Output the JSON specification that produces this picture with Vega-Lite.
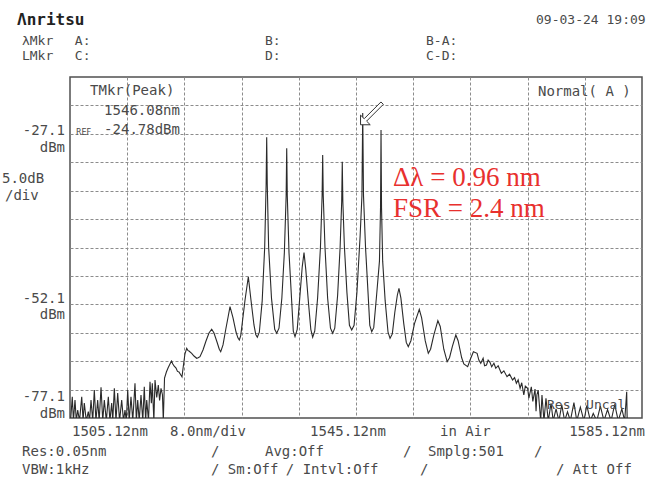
{
  "$schema": "https://vega.github.io/schema/vega-lite/v6.json",
  "width": 572,
  "height": 341,
  "autosize": {"type": "none"},
  "padding": {"left": 70, "top": 77, "right": 5, "bottom": 66},
  "background": "white",
  "config": {"view": {"stroke": "#505050", "strokeWidth": 1.5}, "font": "DejaVu Sans Mono"},
  "datasets": {
    "trace": [
      {"wl":1505.2,"lvl":-77.6},{"wl":1505.44,"lvl":-73.35},{"wl":1505.6,"lvl":-77.6},{"wl":1505.82,"lvl":-73.93},{"wl":1506.0,"lvl":-77.6},{"wl":1506.2,"lvl":-75.69},{"wl":1506.45,"lvl":-77.6},{"wl":1506.76,"lvl":-73.35},{"wl":1506.95,"lvl":-77.6},{"wl":1507.12,"lvl":-74.46},{"wl":1507.4,"lvl":-77.6},{"wl":1507.68,"lvl":-75.99},{"wl":1507.85,"lvl":-77.6},{"wl":1508.06,"lvl":-73.93},{"wl":1508.3,"lvl":-77.6},{"wl":1508.52,"lvl":-72.17},{"wl":1508.75,"lvl":-77.6},{"wl":1508.99,"lvl":-73.93},{"wl":1509.2,"lvl":-77.6},{"wl":1509.46,"lvl":-71.7},{"wl":1509.7,"lvl":-77.6},{"wl":1509.92,"lvl":-73.93},{"wl":1510.2,"lvl":-77.6},{"wl":1510.48,"lvl":-73.35},{"wl":1510.7,"lvl":-77.6},{"wl":1510.95,"lvl":-74.46},{"wl":1511.1,"lvl":-77.6},{"wl":1511.32,"lvl":-71.87},{"wl":1511.55,"lvl":-77.6},{"wl":1511.79,"lvl":-72.7},{"wl":1512.05,"lvl":-77.6},{"wl":1512.35,"lvl":-73.93},{"wl":1512.6,"lvl":-77.6},{"wl":1512.81,"lvl":-75.69},{"wl":1513.0,"lvl":-77.6},{"wl":1513.19,"lvl":-72.17},{"wl":1513.4,"lvl":-77.6},{"wl":1513.65,"lvl":-73.35},{"wl":1513.9,"lvl":-77.6},{"wl":1514.21,"lvl":-70.99},{"wl":1514.4,"lvl":-77.6},{"wl":1514.59,"lvl":-73.93},{"wl":1514.8,"lvl":-77.6},{"wl":1515.05,"lvl":-73.05},{"wl":1515.3,"lvl":-77.6},{"wl":1515.51,"lvl":-71.59},{"wl":1515.7,"lvl":-77.6},{"wl":1515.85,"lvl":-73.93},{"wl":1516.1,"lvl":-77.6},{"wl":1516.31,"lvl":-70.71},{"wl":1516.5,"lvl":-74.5},{"wl":1516.63,"lvl":-70.99},{"wl":1516.85,"lvl":-77.6},{"wl":1517.01,"lvl":-70.41},{"wl":1517.25,"lvl":-73.5},{"wl":1517.47,"lvl":-71.29},{"wl":1517.65,"lvl":-74.0},{"wl":1517.85,"lvl":-71.87},{"wl":1518.05,"lvl":-73.0},{"wl":1518.17,"lvl":-77.6},{"wl":1518.34,"lvl":-70.06},
      {"wl":1518.6,"lvl":-69.0},{"wl":1518.83,"lvl":-68.3},{"wl":1519.1,"lvl":-67.6},{"wl":1519.32,"lvl":-67.07},{"wl":1519.5,"lvl":-67.6},{"wl":1519.67,"lvl":-67.95},{"wl":1519.95,"lvl":-68.3},{"wl":1520.15,"lvl":-68.9},{"wl":1520.36,"lvl":-69.01},{"wl":1520.6,"lvl":-69.5},{"wl":1520.78,"lvl":-69.88},{"wl":1520.99,"lvl":-67.78},{"wl":1521.2,"lvl":-65.8},{"wl":1521.44,"lvl":-64.84},{"wl":1521.6,"lvl":-65.2},{"wl":1521.76,"lvl":-65.31},{"wl":1522.14,"lvl":-65.72},{"wl":1522.46,"lvl":-66.19},{"wl":1522.84,"lvl":-66.59},{"wl":1523.05,"lvl":-66.5},{"wl":1523.3,"lvl":-66.31},{"wl":1523.72,"lvl":-65.14},{"wl":1524.14,"lvl":-63.55},{"wl":1524.56,"lvl":-62.14},{"wl":1524.94,"lvl":-61.49},{"wl":1525.26,"lvl":-62.14},{"wl":1525.68,"lvl":-63.72},{"wl":1526.0,"lvl":-65.0},{"wl":1526.2,"lvl":-65.43},{"wl":1526.52,"lvl":-64.25},{"wl":1526.94,"lvl":-61.26},{"wl":1527.25,"lvl":-59.2},{"wl":1527.5,"lvl":-57.52},{"wl":1527.92,"lvl":-59.5},{"wl":1528.34,"lvl":-61.97},{"wl":1528.6,"lvl":-63.0},{"wl":1528.8,"lvl":-63.38},{"wl":1529.0,"lvl":-62.6},{"wl":1529.18,"lvl":-60.73},{"wl":1529.6,"lvl":-56.34},{"wl":1530.06,"lvl":-52.24},{"wl":1530.43,"lvl":-56.34},{"wl":1530.85,"lvl":-60.73},{"wl":1531.1,"lvl":-62.4},{"wl":1531.32,"lvl":-62.9},
      {"wl":1531.6,"lvl":-62.0},{"wl":1532.0,"lvl":-56.5},{"wl":1532.35,"lvl":-47.0},{"wl":1532.55,"lvl":-36.0},{"wl":1532.63,"lvl":-27.71},{"wl":1532.71,"lvl":-36.0},{"wl":1532.9,"lvl":-47.0},{"wl":1533.3,"lvl":-56.0},{"wl":1533.75,"lvl":-61.5},{"wl":1534.03,"lvl":-62.2},
      {"wl":1534.35,"lvl":-61.3},{"wl":1534.75,"lvl":-56.0},{"wl":1535.1,"lvl":-48.0},{"wl":1535.35,"lvl":-38.0},{"wl":1535.43,"lvl":-29.65},{"wl":1535.51,"lvl":-38.0},{"wl":1535.75,"lvl":-48.0},{"wl":1536.1,"lvl":-56.0},{"wl":1536.35,"lvl":-61.8},{"wl":1536.59,"lvl":-62.79},
      {"wl":1536.9,"lvl":-61.5},{"wl":1537.25,"lvl":-56.0},{"wl":1537.6,"lvl":-50.5},{"wl":1537.85,"lvl":-48.01},{"wl":1538.1,"lvl":-51.0},{"wl":1538.45,"lvl":-56.5},{"wl":1538.8,"lvl":-61.5},{"wl":1539.06,"lvl":-62.9},
      {"wl":1539.35,"lvl":-61.8},{"wl":1539.75,"lvl":-56.0},{"wl":1540.15,"lvl":-47.0},{"wl":1540.38,"lvl":-38.0},{"wl":1540.46,"lvl":-30.82},{"wl":1540.54,"lvl":-38.0},{"wl":1540.78,"lvl":-47.0},{"wl":1541.15,"lvl":-56.0},{"wl":1541.55,"lvl":-61.3},{"wl":1541.86,"lvl":-62.2},
      {"wl":1542.15,"lvl":-61.3},{"wl":1542.55,"lvl":-55.5},{"wl":1542.9,"lvl":-47.0},{"wl":1543.12,"lvl":-39.0},{"wl":1543.2,"lvl":-32.0},{"wl":1543.28,"lvl":-39.0},{"wl":1543.5,"lvl":-47.0},{"wl":1543.85,"lvl":-55.0},{"wl":1544.2,"lvl":-60.8},{"wl":1544.52,"lvl":-61.62},
      {"wl":1544.85,"lvl":-60.8},{"wl":1545.25,"lvl":-55.0},{"wl":1545.7,"lvl":-45.0},{"wl":1545.95,"lvl":-38.0},{"wl":1546.06,"lvl":-23.43},{"wl":1546.17,"lvl":-38.0},{"wl":1546.45,"lvl":-47.0},{"wl":1546.8,"lvl":-55.0},{"wl":1547.05,"lvl":-60.8},{"wl":1547.32,"lvl":-61.91},
      {"wl":1547.6,"lvl":-61.2},{"wl":1548.0,"lvl":-55.5},{"wl":1548.4,"lvl":-49.5},{"wl":1548.55,"lvl":-40.0},{"wl":1548.62,"lvl":-26.43},{"wl":1548.69,"lvl":-40.0},{"wl":1548.85,"lvl":-49.5},{"wl":1549.2,"lvl":-56.5},{"wl":1549.6,"lvl":-62.0},{"wl":1549.88,"lvl":-63.08},
      {"wl":1550.2,"lvl":-62.3},{"wl":1550.55,"lvl":-58.5},{"wl":1550.9,"lvl":-55.5},{"wl":1551.13,"lvl":-54.28},{"wl":1551.4,"lvl":-56.0},{"wl":1551.8,"lvl":-60.5},{"wl":1552.15,"lvl":-63.8},{"wl":1552.43,"lvl":-64.55},
      {"wl":1552.8,"lvl":-63.5},{"wl":1553.3,"lvl":-60.5},{"wl":1553.97,"lvl":-57.97},{"wl":1554.3,"lvl":-59.5},{"wl":1554.8,"lvl":-63.5},{"wl":1555.23,"lvl":-65.72},
      {"wl":1555.55,"lvl":-65.0},{"wl":1556.0,"lvl":-62.5},{"wl":1556.57,"lvl":-59.98},{"wl":1556.9,"lvl":-61.0},{"wl":1557.4,"lvl":-65.0},{"wl":1557.87,"lvl":-67.19},
      {"wl":1558.2,"lvl":-66.5},{"wl":1558.6,"lvl":-64.5},{"wl":1559.08,"lvl":-62.49},{"wl":1559.4,"lvl":-63.5},{"wl":1559.9,"lvl":-66.5},{"wl":1560.2,"lvl":-67.6},{"wl":1560.74,"lvl":-68.07},
      {"wl":1561.1,"lvl":-66.8},{"wl":1561.54,"lvl":-65.43},{"wl":1562.06,"lvl":-65.72},{"wl":1562.3,"lvl":-66.9},{"wl":1562.57,"lvl":-67.48},{"wl":1562.9,"lvl":-66.6},{"wl":1563.1,"lvl":-67.9},{"wl":1563.37,"lvl":-67.78},{"wl":1563.6,"lvl":-66.9},{"wl":1563.86,"lvl":-67.3},{"wl":1564.1,"lvl":-68.1},{"wl":1564.41,"lvl":-67.48},{"wl":1564.67,"lvl":-68.35},{"wl":1565.0,"lvl":-67.9},{"wl":1565.45,"lvl":-69.23},{"wl":1565.8,"lvl":-68.8},{"wl":1566.24,"lvl":-69.83},{"wl":1566.6,"lvl":-69.4},{"wl":1567.02,"lvl":-70.41},{"wl":1567.3,"lvl":-70.0},{"wl":1567.55,"lvl":-70.99},{"wl":1567.8,"lvl":-70.4},{"wl":1568.07,"lvl":-71.87},{"wl":1568.3,"lvl":-70.9},{"wl":1568.59,"lvl":-73.05},{"wl":1568.8,"lvl":-71.5},{"wl":1569.12,"lvl":-71.87},{"wl":1569.3,"lvl":-73.6},{"wl":1569.64,"lvl":-71.6},{"wl":1569.85,"lvl":-74.2},{"wl":1570.16,"lvl":-72.0},{"wl":1570.3,"lvl":-75.9},{"wl":1570.42,"lvl":-73.05},{"wl":1570.6,"lvl":-72.2},{"wl":1570.95,"lvl":-77.6},{"wl":1571.13,"lvl":-73.05},{"wl":1571.41,"lvl":-77.6},{"wl":1571.69,"lvl":-73.63},{"wl":1572.01,"lvl":-77.6},{"wl":1572.4,"lvl":-74.5},{"wl":1572.7,"lvl":-77.6},{"wl":1573.1,"lvl":-75.5},{"wl":1573.5,"lvl":-77.6},{"wl":1573.9,"lvl":-74.8},{"wl":1574.3,"lvl":-77.6},{"wl":1574.7,"lvl":-76.0},{"wl":1575.1,"lvl":-77.6},{"wl":1575.6,"lvl":-74.4},{"wl":1576.0,"lvl":-77.6},{"wl":1576.5,"lvl":-75.2},{"wl":1577.0,"lvl":-77.6},{"wl":1577.4,"lvl":-74.9},{"wl":1577.9,"lvl":-77.6},{"wl":1578.3,"lvl":-76.3},{"wl":1578.8,"lvl":-77.6},{"wl":1579.3,"lvl":-75.0},{"wl":1579.8,"lvl":-77.6},{"wl":1580.3,"lvl":-75.6},{"wl":1580.8,"lvl":-77.6},{"wl":1581.3,"lvl":-74.7},{"wl":1581.8,"lvl":-77.6},{"wl":1582.3,"lvl":-75.5},{"wl":1582.7,"lvl":-77.6},{"wl":1582.98,"lvl":-72.5},{"wl":1583.05,"lvl":-77.6}
    ],
    "marker": [{"wl": 1547.35, "lvl": -23.5}],
    "textLeft": [
      {"wl":1507.92,"lvl":-19.56,"label":"TMkr(Peak)"},
      {"wl":1570.57,"lvl":-19.74,"label":"Normal( A )"},
      {"wl":1495.61,"lvl":-35.05,"label":"5.0dB"},
      {"wl":1496.03,"lvl":-38.04,"label":"/div"},
      {"wl":1505.4,"lvl":-79.56,"label":"1505.12nm"},
      {"wl":1519.11,"lvl":-79.56,"label":"8.0nm/div"},
      {"wl":1538.69,"lvl":-79.56,"label":"1545.12nm"},
      {"wl":1556.87,"lvl":-79.56,"label":"in Air"},
      {"wl":1498.41,"lvl":-83.08,"label":"Res:0.05nm"},
      {"wl":1524.84,"lvl":-83.08,"label":"/"},
      {"wl":1532.39,"lvl":-83.08,"label":"Avg:Off"},
      {"wl":1551.69,"lvl":-83.08,"label":"/"},
      {"wl":1555.19,"lvl":-83.08,"label":"Smplg:501"},
      {"wl":1570.01,"lvl":-83.08,"label":"/"},
      {"wl":1498.41,"lvl":-86.25,"label":"VBW:1kHz"},
      {"wl":1524.84,"lvl":-86.25,"label":"/ Sm:Off"},
      {"wl":1535.3,"lvl":-86.25,"label":"/ Intvl:Off"},
      {"wl":1554.07,"lvl":-86.25,"label":"/"},
      {"wl":1573.09,"lvl":-86.25,"label":"/ Att Off"}
    ],
    "textRight": [
      {"wl":1520.5,"lvl":-23.08,"label":"1546.08nm"},
      {"wl":1520.5,"lvl":-26.43,"label":"-24.78dBm"},
      {"wl":1504.42,"lvl":-26.6,"label":"-27.1"},
      {"wl":1504.42,"lvl":-29.59,"label":"dBm"},
      {"wl":1504.42,"lvl":-56.16,"label":"-52.1"},
      {"wl":1504.42,"lvl":-58.98,"label":"dBm"},
      {"wl":1504.42,"lvl":-73.4,"label":"-77.1"},
      {"wl":1504.42,"lvl":-76.35,"label":"dBm"},
      {"wl":1585.54,"lvl":-79.56,"label":"1585.12nm"}
    ],
    "header": [
      {"wl":1498.4,"lvl":-10.77,"label":"λMkr"},
      {"wl":1505.8,"lvl":-10.77,"label":"A:"},
      {"wl":1532.39,"lvl":-10.77,"label":"B:"},
      {"wl":1554.91,"lvl":-10.77,"label":"B-A:"},
      {"wl":1498.4,"lvl":-13.41,"label":"LMkr"},
      {"wl":1505.8,"lvl":-13.41,"label":"C:"},
      {"wl":1532.39,"lvl":-13.41,"label":"D:"},
      {"wl":1554.91,"lvl":-13.41,"label":"C-D:"},
      {"wl":1570.3,"lvl":-7.07,"label":"09-03-24 19:09"},
      {"wl":1571.83,"lvl":-74.81,"label":"Res. Uncal"}
    ],
    "logo": [{"wl":1497.71,"lvl":-7.07,"label":"Λnritsu"}],
    "ref": [{"wl":1505.96,"lvl":-27.04,"label":"REF"}],
    "red": [
      {"wl":1550.29,"lvl":-36.28,"label":"Δλ = 0.96 nm"},
      {"wl":1550.29,"lvl":-41.73,"label":"FSR = 2.4 nm"}
    ]
  },
  "encoding": {
    "x": {"field": "wl", "type": "quantitative",
      "scale": {"domain": [1505.12, 1585.12], "nice": false, "zero": false},
      "axis": {"values": [1513.12,1521.12,1529.12,1537.12,1545.12,1553.12,1561.12,1569.12,1577.12],
        "grid": true, "gridDash": [3,2], "gridColor": "#8c8c8c", "gridOpacity": 1, "gridWidth": 1,
        "labels": false, "ticks": false, "domain": false, "title": null}},
    "y": {"field": "lvl", "type": "quantitative",
      "scale": {"domain": [-77.1, -17.1], "nice": false, "zero": false},
      "axis": {"values": [-72.1,-67.1,-62.1,-57.1,-52.1,-47.1,-42.1,-37.1,-32.1,-27.1,-22.1],
        "grid": true, "gridDash": [3,2], "gridColor": "#8c8c8c", "gridOpacity": 1, "gridWidth": 1,
        "labels": false, "ticks": false, "domain": false, "title": null}}
  },
  "layer": [
    {"data": {"name": "trace"}, "mark": {"type": "line", "clip": true, "color": "#2a2a2a", "strokeWidth": 1.1}},
    {"data": {"name": "marker"}, "mark": {"type": "point", "shape": "M -1 1 L -1 0.15 L -0.68 0.47 L 0.79 -1 L 1 -0.79 L -0.47 0.68 L -0.15 1 Z", "size": 520, "filled": true, "fill": "white", "stroke": "#333333", "strokeWidth": 1, "opacity": 1}},
    {"data": {"name": "textLeft"}, "mark": {"type": "text", "align": "left", "baseline": "middle", "font": "DejaVu Sans Mono", "fontSize": 14, "color": "#4a4a4a"}, "encoding": {"text": {"field": "label"}}},
    {"data": {"name": "textRight"}, "mark": {"type": "text", "align": "right", "baseline": "middle", "font": "DejaVu Sans Mono", "fontSize": 14, "color": "#4a4a4a"}, "encoding": {"text": {"field": "label"}}},
    {"data": {"name": "header"}, "mark": {"type": "text", "align": "left", "baseline": "middle", "font": "DejaVu Sans Mono", "fontSize": 13, "color": "#4a4a4a"}, "encoding": {"text": {"field": "label"}}},
    {"data": {"name": "logo"}, "mark": {"type": "text", "align": "left", "baseline": "middle", "font": "DejaVu Sans Mono", "fontSize": 16, "fontWeight": "bold", "color": "#222222"}, "encoding": {"text": {"field": "label"}}},
    {"data": {"name": "ref"}, "mark": {"type": "text", "align": "left", "baseline": "middle", "font": "DejaVu Sans", "fontSize": 8, "color": "#4a4a4a"}, "encoding": {"text": {"field": "label"}}},
    {"data": {"name": "red"}, "mark": {"type": "text", "align": "left", "baseline": "alphabetic", "font": "Liberation Serif", "fontSize": 27, "color": "#e8302e"}, "encoding": {"text": {"field": "label"}}}
  ]
}
